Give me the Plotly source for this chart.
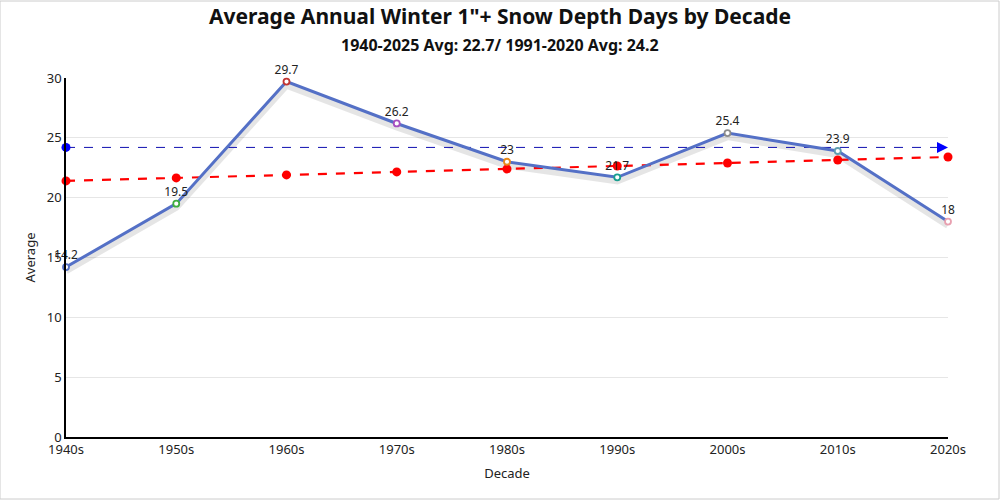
import plotly.graph_objects as go

decades = ["1940s", "1950s", "1960s", "1970s", "1980s", "1990s", "2000s", "2010s", "2020s"]
averages = [14.2, 19.5, 29.7, 26.2, 23, 21.7, 25.4, 23.9, 18]
trend = [21.4, 21.65, 21.9, 22.15, 22.4, 22.65, 22.9, 23.15, 23.4]
normal_1991_2020 = 24.2
point_colors = ["#5470c6", "#3fae3f", "#c23531", "#a64fc0", "#e88a1a", "#1a9e8f", "#8c8c8c", "#5f9eb0", "#e8a0b0"]
y_ticks = [0, 5, 10, 15, 20, 25, 30]
title_text = "Average Annual Winter 1\"+ Snow Depth Days by Decade"
subtitle_text = "1940-2025 Avg: 22.7/ 1991-2020 Avg: 24.2"

xs = list(range(len(decades)))
FONT = "Noto Sans, Open Sans, sans-serif"

fig = go.Figure()

# shadow of main line
fig.add_trace(go.Scatter(x=xs, y=[v - 0.3 for v in averages], mode="lines",
                         line=dict(color="rgba(0,0,0,0.10)", width=7),
                         hoverinfo="skip", showlegend=False))

# 1991-2020 normal line
fig.add_trace(go.Scatter(x=[xs[0], xs[-1]], y=[normal_1991_2020] * 2, mode="lines",
                         line=dict(color="#1010b0", width=1, dash="dash"),
                         hoverinfo="skip", showlegend=False))
fig.add_trace(go.Scatter(x=[xs[0]], y=[normal_1991_2020], mode="markers",
                         marker=dict(color="#0000ff", size=9),
                         hoverinfo="skip", showlegend=False, cliponaxis=False))
fig.add_trace(go.Scatter(x=[xs[-1]], y=[normal_1991_2020], mode="markers",
                         marker=dict(color="#0000ff", size=11, symbol="arrow-right"),
                         hoverinfo="skip", showlegend=False, cliponaxis=False))

# trend line
fig.add_trace(go.Scatter(x=xs, y=trend, mode="lines+markers",
                         line=dict(color="#ff0000", width=2.2, dash="dash"),
                         marker=dict(color="#ff0000", size=9),
                         showlegend=False, cliponaxis=False))

# main line
fig.add_trace(go.Scatter(x=xs, y=averages, mode="lines+markers+text",
                         line=dict(color="#5470c6", width=3),
                         marker=dict(color="white", size=6, symbol="circle",
                                     line=dict(color=point_colors, width=1.8)),
                         text=[str(v) for v in averages], textposition="top center",
                         textfont=dict(family=FONT, size=12, color="#222"),
                         showlegend=False, cliponaxis=False))

fig.update_layout(
    width=1000, height=500,
    margin=dict(l=66, r=52, t=78, b=63),
    paper_bgcolor="white", plot_bgcolor="white",
    font=dict(family=FONT, color="#333"),
    xaxis=dict(
        range=[0, len(decades) - 1], tickmode="array", tickvals=xs, ticktext=decades,
        showgrid=False, showline=True, linecolor="#000", linewidth=1.5,
        ticks="", tickfont=dict(size=13, color="#222"),
        title=dict(text="Decade", font=dict(size=13, color="#222"), standoff=12),
        zeroline=False,
    ),
    yaxis=dict(
        range=[0, 30], tickmode="array", tickvals=y_ticks,
        showgrid=True, gridcolor="#e6e6e6", showline=True, linecolor="#000", linewidth=1.5,
        ticks="", tickfont=dict(size=13, color="#222"),
        title=dict(text="Average", font=dict(size=13, color="#222"), standoff=8),
        zeroline=False,
    ),
)

fig.add_annotation(text="<b>" + title_text + "</b>", xref="paper", yref="paper",
                   x=0.5 - 7/882, y=1 + 62/359, xanchor="center", yanchor="middle",
                   showarrow=False, font=dict(family=FONT, size=21, color="#111"))
fig.add_annotation(text="<b>" + subtitle_text + "</b>", xref="paper", yref="paper",
                   x=0.5 - 7/882, y=1 + 33/359, xanchor="center", yanchor="middle",
                   showarrow=False, font=dict(family=FONT, size=16, color="#111"))

fig.add_shape(type="rect", xref="paper", yref="paper", x0=-66/882, x1=1 + 51/882,
              y0=-62/359, y1=1 + 77/359,
              line=dict(color="#cccccc", width=1))

fig.write_html("out.html", config={"displayModeBar": False},
               post_script="document.body.style.margin='0';window.dispatchEvent(new Event('resize'));")
